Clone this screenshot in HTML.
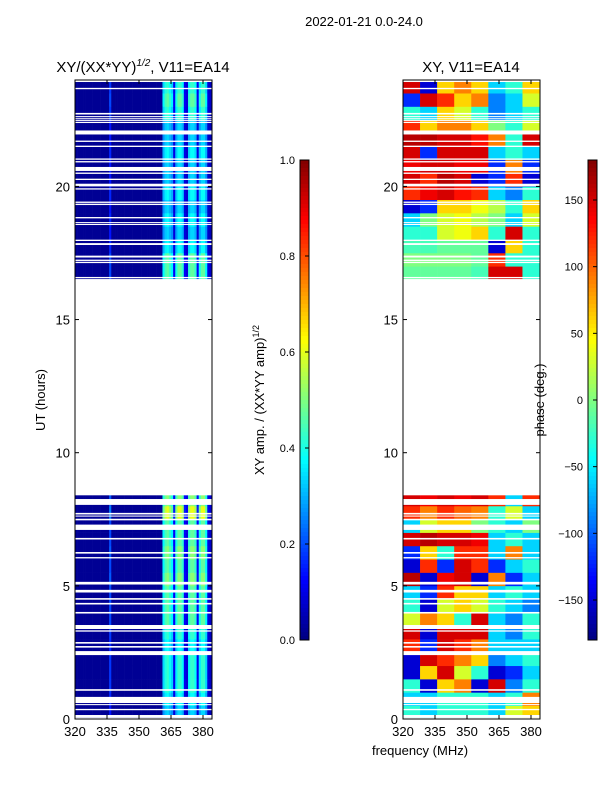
<!DOCTYPE html>
<html><head><meta charset="utf-8">
<style>
body{margin:0;background:#fff;}
svg{display:block;font-family:"Liberation Sans","DejaVu Sans",sans-serif;}
</style></head>
<body>
<svg id="fig" width="600" height="800" viewBox="0 0 600 800" xmlns="http://www.w3.org/2000/svg">
<rect width="600" height="800" fill="#fff"/>
<g id="left"></g><g id="right"></g><g id="cb1"></g><g id="cb2"></g>
<text x="364" y="26" font-size="13" text-anchor="middle">2022-01-21 0.0-24.0</text>
<text x="143" y="72" font-size="15" text-anchor="middle">XY/(XX*YY)<tspan font-size="10" dy="-6" font-style="italic">1/2</tspan><tspan dy="6">, V11=EA14</tspan></text>
<text x="471" y="72" font-size="15" text-anchor="middle">XY, V11=EA14</text>
<text transform="translate(45,400) rotate(-90)" font-size="13" text-anchor="middle">UT (hours)</text>
<text x="420" y="755" font-size="13" text-anchor="middle">frequency (MHz)</text>
<text transform="translate(264,400) rotate(-90)" font-size="13" text-anchor="middle">XY amp. / (XX*YY amp)<tspan font-size="9" dy="-5">1/2</tspan></text>
<text transform="translate(544,400) rotate(-90)" font-size="13" text-anchor="middle">phase (deg.)</text>
</svg>
<script>
// ---- data ----
const timeBinHours = 0.5;
const ampFreqStart = 320, ampFreqStep = 1;
const ampProfile = [0,0,0,0,0,0,0,0,0,0,0,0,0,0,0,0,0.35,0,0,0,0,0,0,0,0,0,0,0,0,0,0,0,0,0,0,0,0,0,0,0,0,
  0.7,0.85,0.9,0.8,0.7,0.2,0.75,0.9,0.9,0.8,0.2,0.15,0.8,0.9,0.9,0.8,0.2,0.75,0.9,0.9,0.7,0.15,0.1];
const ampBase = 0.02;
const ampLevels = [0.35,0.4,0.45,0.45,0.45,0.4,0.45,0.5,0.5,0.5,0.55,0.5,0.55,0.5,0.5,0.65,0.55,
  null,null,null,null,null,null,null,null,null,null,null,null,null,null,null,null,
  0.5,0.5,0.4,0.35,0.4,0.35,0.4,0.35,0.35,0.4,0.35,0.35,0.45,0.5,0.45];
const phaseFreqStart = 320, phaseFreqStep = 8;
const phaseRows = [
 [-30,-60,-30,-30,-30,-60,30,60],
 [-60,-60,-30,-30,-30,-60,-30,90],
 [-30,-150,60,90,-150,150,-90,-30],
 [-150,60,150,30,-30,-150,-120,-60],
 [-150,150,120,90,60,-90,-60,-30],
 [120,-120,150,120,90,-60,-60,-60],
 [150,-150,150,150,150,-60,-90,-30],
 [30,90,60,-30,150,-60,-90,-30],
 [-30,-150,30,60,30,-30,-60,-90],
 [-60,-120,120,60,60,-60,-30,-60],
 [160,-150,140,150,-150,90,-120,-60],
 [-150,120,-120,150,120,-120,-60,-30],
 [-120,60,-30,120,120,-60,90,-60],
 [150,160,150,150,140,-60,-30,-60],
 [-60,30,60,60,0,-30,-60,0],
 [120,90,120,100,90,-30,30,-60],
 [150,140,150,140,150,120,-60,120],
 null,null,null,null,null,null,null,null,null,null,null,null,null,null,null,null,
 [-10,-10,-10,-10,-20,150,150,-30],
 [0,0,0,0,-10,120,-30,-30],
 [-20,-20,-10,-10,-10,-150,60,-30],
 [-30,-30,30,40,60,-30,150,-30],
 [-60,0,30,40,20,0,-60,30],
 [-150,-120,60,60,40,20,-30,60],
 [120,140,150,130,120,-60,-90,-30],
 [150,120,160,150,-150,-120,120,-150],
 [140,150,150,140,140,-120,90,-120],
 [150,-120,150,150,150,-60,-30,-60],
 [160,160,150,150,130,90,-30,150],
 [120,60,90,90,60,0,-30,30],
 [-30,-60,60,30,-30,-90,-60,-30],
 [-120,150,120,60,90,-90,-60,30],
 [150,-150,60,90,60,-60,-30,60]];
const gapStarts = [0,0.05,0.33,0.52,0.6,1.06,2.4,2.68,2.83,3.28,3.38,3.96,4.3,4.48,4.75,5.05,6.03,6.21,6.74,7.1,7.46,7.6,7.68,8.04,8.4,16.55,17.12,17.2,17.33,17.8,17.95,18.55,18.62,18.8,19.3,19.38,19.88,20.0,20.24,20.47,20.58,20.9,21.0,21.48,21.67,21.95,22.38,22.45,22.52,22.6,22.7,23.65,23.92];
const gapEnds   = [0.05,0.15,0.38,0.56,0.83,1.12,2.55,2.74,2.89,3.33,3.53,4.02,4.36,4.54,4.85,5.15,6.08,6.27,6.8,7.3,7.52,7.64,7.74,8.26,16.52,16.6,17.17,17.25,17.4,17.87,18.0,18.59,18.66,18.85,19.35,19.43,19.93,20.1,20.29,20.52,20.73,20.95,21.05,21.53,21.72,22.1,22.42,22.49,22.56,22.64,22.76,23.7,24.1];
const yTicks = [0,5,10,15,20];
const xTicks = [320,335,350,365,380];
const ampCbTicks = [0.0,0.2,0.4,0.6,0.8,1.0];
const phaseCbTicks = [-150,-100,-50,0,50,100,150];

// ---- helpers ----
const NS = "http://www.w3.org/2000/svg";
function mk(tag, attrs, parent){const e=document.createElementNS(NS,tag);for(const k in attrs)e.setAttribute(k,attrs[k]);parent.appendChild(e);return e;}
function jet(v){v=Math.max(0,Math.min(1,v));
  const r=Math.max(0,Math.min(1,1.5-Math.abs(4*v-3))),g=Math.max(0,Math.min(1,1.5-Math.abs(4*v-2))),b=Math.max(0,Math.min(1,1.5-Math.abs(4*v-1)));
  return `rgb(${Math.round(r*255)},${Math.round(g*255)},${Math.round(b*255)})`;}
function yScale(t){return 719 - t*26.63;}
function xScale(x0){return f=>x0+(f-320)*2.1333;}

function drawPanel(gid, x0, kind){
  const g=document.getElementById(gid);
  const xs=xScale(x0);
  const clip=mk('clipPath',{id:'clip'+gid},g);
  mk('rect',{x:x0,y:80,width:137,height:639},clip);
  const hm=mk('g',{'clip-path':`url(#clip${gid})`},g);
  
  
  const nRows = kind==='amp'?ampLevels.length:phaseRows.length;
  for(let r=0;r<nRows;r++){
    const t0=r*timeBinHours, t1=t0+timeBinHours;
    const yTop=yScale(t1), yBot=yScale(t0);
    if(kind==='amp'){
      const lv=ampLevels[r]; if(lv===null) continue;
      for(let b=0;b<ampProfile.length;b++){
        const f0=ampFreqStart+b*ampFreqStep;
        const c=mk('rect',{x:xs(f0),y:yTop,width:xs(f0+ampFreqStep)-xs(f0)+0.3,height:yBot-yTop+0.3,fill:jet(ampBase+lv*ampProfile[b])},hm);
        
        
      }
    } else {
      const row=phaseRows[r]; if(row===null) continue;
      for(let b=0;b<row.length;b++){
        const f0=phaseFreqStart+b*phaseFreqStep;
        const c=mk('rect',{x:xs(f0),y:yTop,width:xs(f0+phaseFreqStep)-xs(f0)+0.3,height:yBot-yTop+0.3,fill:jet((row[b]+180)/360)},hm);
        
        
      }
    }
  }
  for(let i=0;i<gapStarts.length;i++){
    const gr=mk('rect',{x:x0,y:yScale(gapEnds[i]),width:140,height:yScale(gapStarts[i])-yScale(gapEnds[i]),fill:'#fff'},hm);
    
    
  }
  const fr=mk('rect',{x:x0,y:80,width:137,height:639,fill:'none',stroke:'#000','stroke-width':1},g);
  
  
  yTicks.forEach(t=>{const y=yScale(t);
    mk('line',{x1:x0,x2:x0+4,y1:y,y2:y,stroke:'#000'},g);
    mk('line',{x1:x0+137,x2:x0+133,y1:y,y2:y,stroke:'#000'},g);
    const tx=mk('text',{x:x0-5,y:y+5,'font-size':13,'text-anchor':'end'},g);tx.textContent=t;
    
    
  });
  xTicks.forEach(f=>{const x=xs(f);
    mk('line',{x1:x,x2:x,y1:719,y2:715,stroke:'#000'},g);
    mk('line',{x1:x,x2:x,y1:80,y2:84,stroke:'#000'},g);
    const tx=mk('text',{x:x,y:736,'font-size':13,'text-anchor':'middle'},g);tx.textContent=f;
    
    
  });
}
function drawCb(gid,x0,ticks,vmin,vmax,fmt){
  const g=document.getElementById(gid);
  const n=120;
  for(let i=0;i<n;i++){
    const r=mk('rect',{x:x0,y:160+i*4,width:9,height:4.3,fill:jet(1-(i+0.5)/n)},g);
    
    
  }
  mk('rect',{x:x0,y:160,width:9,height:480,fill:'none',stroke:'#000','stroke-width':1},g);
  ticks.forEach(v=>{const y=640-(v-vmin)/(vmax-vmin)*480;
    mk('line',{x1:x0+9,x2:x0+5,y1:y,y2:y,stroke:'#000'},g);
    const tx=mk('text',{x:x0-5,y:y+4,'font-size':11,'text-anchor':'end'},g);tx.textContent=fmt(v);
    
    
  });
}
drawPanel('left',75,'amp');
drawPanel('right',403,'phase');
drawCb('cb1',300,ampCbTicks,0,1,v=>v.toFixed(1));
drawCb('cb2',588,phaseCbTicks,-180,180,v=>v<0?'\u2212'+Math.abs(v):String(v));
</script>
</body></html>
